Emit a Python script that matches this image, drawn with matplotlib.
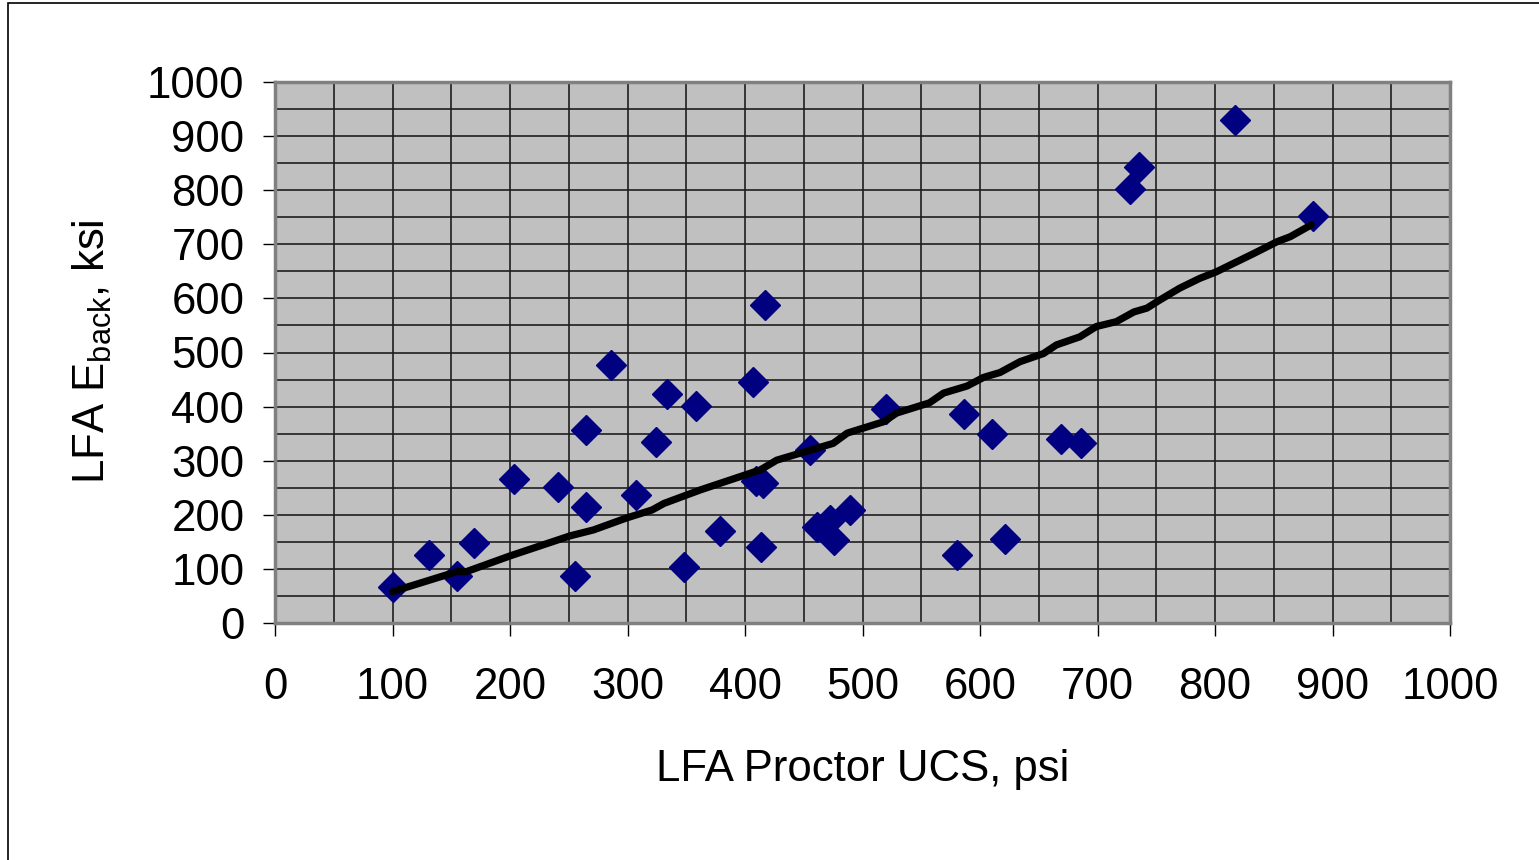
import matplotlib
matplotlib.use("Agg")
import matplotlib.pyplot as plt
from matplotlib.patches import Rectangle
from matplotlib.ticker import MultipleLocator

plt.rcParams['font.family'] = ['Liberation Sans', 'DejaVu Sans']
plt.rcParams['mathtext.fontset'] = 'custom'
plt.rcParams['mathtext.rm'] = 'Liberation Sans'

# measured pairs: Proctor UCS (psi) vs backcalculated modulus (ksi)
ucs = [100, 131, 155, 169, 203, 241, 255, 265, 265, 286,
       307, 324, 334, 348, 358, 379, 407, 409, 415, 414,
       417, 455, 461, 472, 476, 489, 520, 580, 586, 610,
       621, 669, 686, 728, 735, 817, 883]
e_back = [67, 126, 87, 147, 267, 252, 87, 215, 356, 476,
          237, 334, 423, 103, 401, 170, 445, 262, 258, 140,
          588, 320, 177, 190, 153, 208, 395, 125, 386, 349,
          155, 341, 333, 803, 842, 930, 752]

# trend line
trend_x = [100, 155, 163, 200, 251, 271, 299, 321, 331, 362,
           413, 427, 475, 487, 518, 529, 557, 569, 589, 603,
           617, 634, 654, 665, 685, 699, 716, 731, 742, 753,
           770, 787, 801, 816, 833, 853, 864, 882]
trend_y = [58, 95, 95, 124, 161, 172, 194, 209, 221, 246,
           283, 301, 332, 351, 372, 388, 407, 425, 438, 454,
           463, 483, 498, 514, 529, 548, 557, 575, 582, 597,
           619, 637, 649, 665, 683, 705, 714, 736]

W, H = 1539, 860
fig = plt.figure(figsize=(W / 100, H / 100), dpi=100)
fig.patch.set_facecolor('white')

# outer chart border
fig.add_artist(Rectangle((8 / W, -0.01), 1.02, 1 - 3 / H + 0.01,
                         transform=fig.transFigure, fill=False,
                         edgecolor='black', linewidth=1.2))

ax = fig.add_axes([275 / W, 1 - 623 / H, (1450 - 275) / W, (623 - 82) / H])
ax.set_facecolor('#C0C0C0')
ax.set_xlim(0, 1000)
ax.set_ylim(0, 1000)

ax.xaxis.set_major_locator(MultipleLocator(100))
ax.yaxis.set_major_locator(MultipleLocator(100))
ax.xaxis.set_minor_locator(MultipleLocator(50))
ax.yaxis.set_minor_locator(MultipleLocator(50))
ax.grid(which='both', color='#1e1e1e', linewidth=1.2)
ax.set_axisbelow(True)

ax.tick_params(axis='both', which='minor', length=0)
ax.tick_params(axis='both', which='major', direction='out', length=9,
               width=1, color='black', labelsize=31.5)
ax.tick_params(axis='x', pad=23)
ax.tick_params(axis='y', pad=13)

for s in ax.spines.values():
    s.set_color('#808080')
    s.set_linewidth(2.5)

ax.plot(ucs, e_back, linestyle='none', marker='D', markersize=15,
        color='#000080', zorder=3)
ax.plot(trend_x, trend_y, color='black', linewidth=5.2,
        solid_capstyle='round', solid_joinstyle='round', zorder=4)

fig.text(863 / W, 1 - 770 / H, 'LFA Proctor UCS, psi', fontsize=31.5,
         ha='center', va='center')
fig.text(92 / W, 1 - 352 / H, r'LFA E$_{\mathregular{back}}$, ksi',
         fontsize=31.5, rotation=90, ha='center', va='center')

fig.savefig('out.png', dpi=100)
